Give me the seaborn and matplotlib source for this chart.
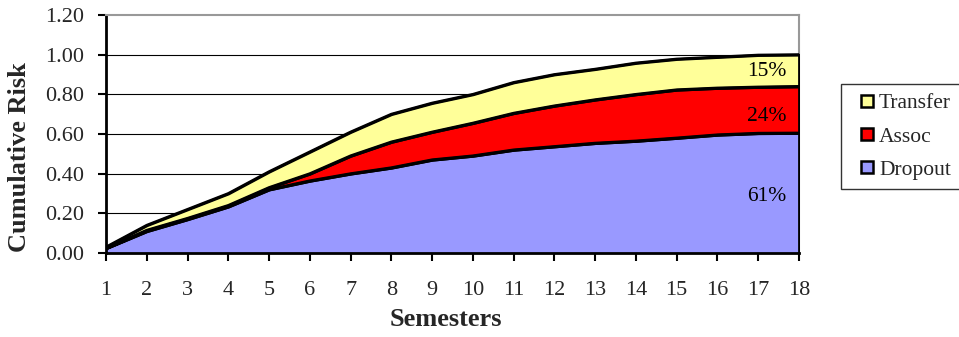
import matplotlib
matplotlib.use("Agg")
import matplotlib.pyplot as plt
from matplotlib.lines import Line2D
import seaborn as sns
import numpy as np
import pandas as pd

semesters = list(range(1, 19))
dropout_top = [0.024, 0.11, 0.17, 0.234, 0.32, 0.364, 0.40, 0.43, 0.47, 0.49, 0.52, 0.537, 0.554, 0.565, 0.58, 0.596, 0.604, 0.605]
assoc_top = [0.025, 0.115, 0.175, 0.24, 0.33, 0.40, 0.49, 0.56, 0.61, 0.655, 0.705, 0.742, 0.773, 0.80, 0.823, 0.832, 0.837, 0.84]
transfer_top = [0.03, 0.14, 0.22, 0.30, 0.41, 0.51, 0.61, 0.70, 0.756, 0.80, 0.86, 0.90, 0.927, 0.958, 0.978, 0.988, 0.998, 1.00]
series_names = ["Dropout", "Assoc", "Transfer"]
series_colors = ["#9999FF", "#FF0000", "#FFFF99"]
end_labels = ["61%", "24%", "15%"]
end_label_y = [0.283, 0.687, 0.914]
y_ticks = [0.0, 0.2, 0.4, 0.6, 0.8, 1.0, 1.2]

df = pd.DataFrame({"Semester": semesters, "Dropout": dropout_top,
                   "Assoc": assoc_top, "Transfer": transfer_top})
layers = [df["Dropout"].values,
          (df["Assoc"] - df["Dropout"]).values,
          (df["Transfer"] - df["Assoc"]).values]

sns.set_theme(style="white")
plt.rcParams["font.family"] = ["Liberation Serif", "DejaVu Serif"]

fig = plt.figure(figsize=(9.59, 3.37), dpi=100)
ax = fig.add_axes([106/959, 1-253/337, (799-106)/959, (253-15)/337])

ax.stackplot(df["Semester"], *layers, colors=series_colors,
             edgecolor="black", linewidth=2.0, zorder=3)
for col in ["Dropout", "Assoc", "Transfer"]:
    sns.lineplot(data=df, x="Semester", y=col, ax=ax, color="black",
                 linewidth=2.0, zorder=4)

ax.set_xlim(1, 18)
ax.set_ylim(0, 1.2)
ax.set_xticks(semesters)
ax.set_yticks(y_ticks)
ax.set_yticklabels([f"{v:.2f}" for v in y_ticks])
for v in y_ticks[1:-1]:
    ax.axhline(v, color="black", linewidth=0.8, zorder=1)

for s in ["top", "right"]:
    ax.spines[s].set_color("#999999")
    ax.spines[s].set_linewidth(1.5)
for s in ["left", "bottom"]:
    ax.spines[s].set_color("black")
    ax.spines[s].set_linewidth(2.0)
ax.spines["right"].set_zorder(0)

ax.tick_params(axis="x", direction="out", length=6, width=1.5, color="black",
               pad=14, labelsize=16, bottom=True)
ax.tick_params(axis="y", direction="out", length=6, width=1.5, color="black",
               pad=10, labelsize=16, left=True)

ax.set_xlabel("Semesters", fontsize=19, fontweight="bold")
ax.set_ylabel("Cumulative Risk", fontsize=19, fontweight="bold")
ax.xaxis.label.set_va("center")
ax.yaxis.label.set_va("center")
ax.xaxis.set_label_coords((446-106)/693, (253-320)/238)
ax.yaxis.set_label_coords((20-106)/693, (253-157)/238)

for lab, yv in zip(end_labels, end_label_y):
    ax.text(17.7, yv, lab, ha="right", va="center", fontsize=15.5,
            color="black", zorder=5)

handles = [Line2D([], [], linestyle="none", marker="s", markersize=8,
                  markerfacecolor=c, markeredgecolor="black",
                  markeredgewidth=1.8, label=n)
           for n, c in zip(series_names, series_colors)][::-1]
leg = fig.legend(handles=handles, loc="upper left",
                 bbox_to_anchor=(841/959, 1-84/337), frameon=True,
                 fancybox=False, fontsize=15.5, handlelength=1.6,
                 handletextpad=-0.25, labelspacing=0.62,
                 borderpad=0.42, borderaxespad=0)
leg.get_frame().set_edgecolor("black")
leg.get_frame().set_linewidth(1.0)

fig.savefig("out.png", dpi=100)
